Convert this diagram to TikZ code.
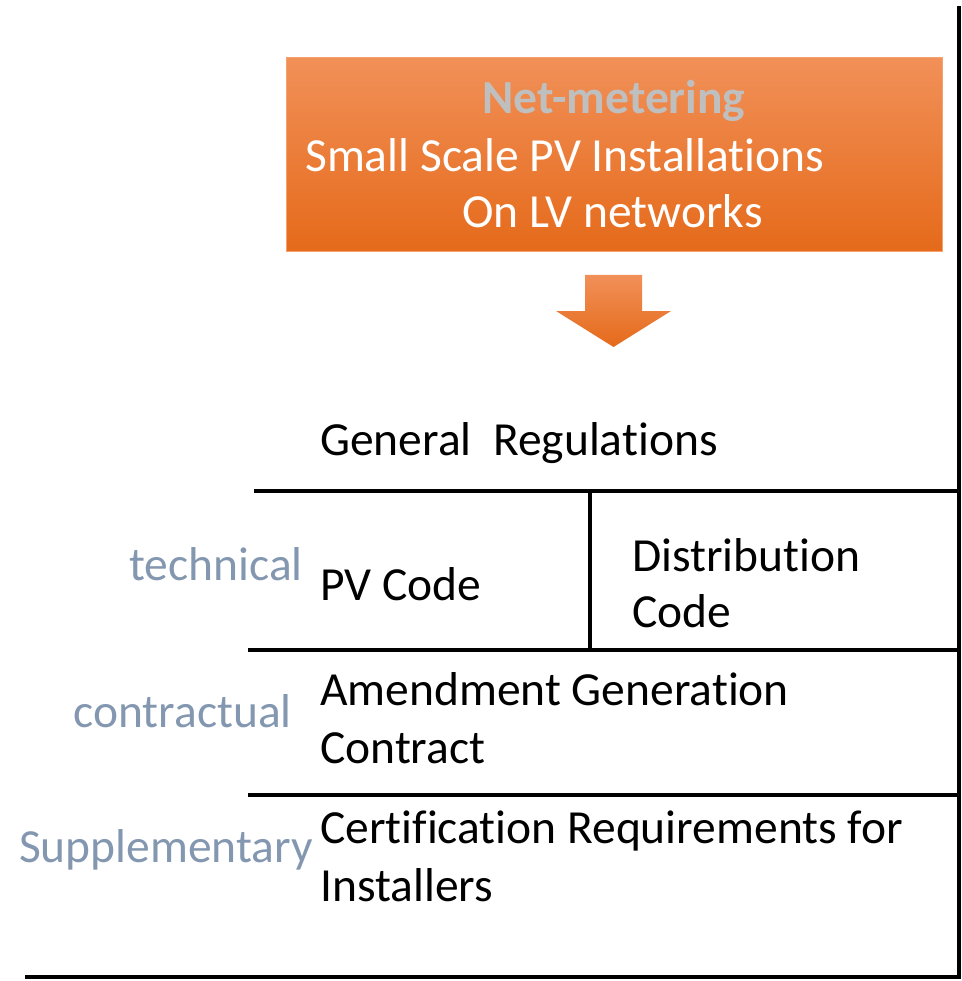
\documentclass[tikz,border=0pt]{standalone}
\usepackage{fontspec}
\setmainfont{Carlito}[Ligatures=NoCommon]
\definecolor{orTop}{HTML}{F19058}
\definecolor{orBot}{HTML}{E56A1A}
\definecolor{orEdge}{HTML}{F5A26E}
\definecolor{grayTitle}{HTML}{BFBFBF}
\definecolor{labelBlue}{HTML}{8497B0}
\tikzset{
  body/.style={anchor=base west, inner sep=0pt, font=\fontsize{47.5}{56}\selectfont, text=black},
  sidelabel/.style={anchor=base east, inner sep=0pt, font=\fontsize{47.5}{56}\selectfont, text=labelBlue},
  boxtext/.style={anchor=base west, inner sep=0pt, font=\fontsize{47.5}{56}\selectfont, text=white},
  rule/.style={line width=3.5pt, black},
}
\begin{document}
\begin{tikzpicture}[x=1pt,y=-1pt]
\useasboundingbox (0,0) rectangle (961,981);
% orange box
\shade[top color=orTop, bottom color=orBot, draw=orEdge, line width=1pt] (286,58) rectangle (942,252);
\node[anchor=base west, inner sep=0pt, font=\fontsize{47.5}{56}\selectfont\bfseries, text=grayTitle] (title) at (482,114) {Net-metering};
\node[boxtext] (l1) at (305,172) {Small Scale PV Installations};
\node[boxtext] (l2) at (462,228) {On LV networks};
% arrow
\shade[top color=orTop, bottom color=orBot] (585,275) -- (642,275) -- (642,311) -- (671,311) -- (613.5,347) -- (556,311) -- (585,311) -- cycle;
% rules
\draw[rule] (959,6) -- (959,977);
\draw[rule] (25,977) -- (961,977);
\draw[rule] (254,491) -- (961,491);
\draw[rule] (590,491) -- (590,650);
\draw[rule] (248,650) -- (961,650);
\draw[rule] (248,795) -- (961,795);
% texts
\node[body] (gen) at (320,455) {General\ \ Regulations};
\node[sidelabel] (tech) at (303,580) {technical};
\node[body] (pv) at (320,600) {PV Code};
\node[body] (dist1) at (632,571) {Distribution};
\node[body] (dist2) at (632,627) {Code};
\node[sidelabel] (contr) at (292,727) {contractual};
\node[body] (amd1) at (320,705) {Amendment Generation};
\node[body] (amd2) at (320,763) {Contract};
\node[sidelabel] (supp) at (313,862) {Supplementary};
\node[body] (cert1) at (320,843) {Certification Requirements for};
\node[body] (cert2) at (320,901) {Installers};
\end{tikzpicture}
\end{document}
